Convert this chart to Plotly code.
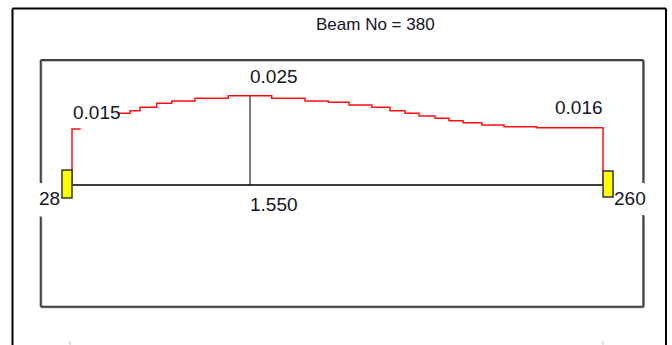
import plotly.graph_objects as go

# ---------------- data ----------------
beam_no = 380
node_start = "28"
node_end = "260"
beam_length = 4.624          # m
max_pos = 1.550              # m, location of max deflection
max_label = "0.025"
start_label = "0.015"
end_label = "0.016"

# staircase of the displacement curve (step start positions, m) and values
seg1_x = [0.000, 0.076]
seg1_y = [0.01573, 0.01573]
step_x = [0.394, 0.505, 0.592, 0.738, 0.868, 1.071, 1.361, 1.739, 2.029, 2.232,
          2.412, 2.610, 2.769, 2.900, 3.022, 3.161, 3.283, 3.405, 3.568, 3.762, 4.047]
step_y = [0.02014, 0.02087, 0.02183, 0.02295, 0.02360, 0.02435, 0.02508, 0.02435,
          0.02360, 0.02323, 0.02247, 0.02183, 0.02087, 0.02014, 0.01938, 0.01874,
          0.01806, 0.01750, 0.01685, 0.01638, 0.01610]
max_val = 0.02508

# ---------------- layout helpers ----------------
W, H = 672, 345
PX_PER_M = 114.84
X0_PX = 72.0
Y0_PX = 185.0
K = 0.0002809  # deflection units per pixel

x_range = [(0 - X0_PX) / PX_PER_M, (W - X0_PX) / PX_PER_M]
y_range = [(Y0_PX - H) * K, (Y0_PX - 0) * K]


def px(x):
    return x / W


def py(y):
    return 1 - y / H


FONT = "Liberation Sans Narrow, Arial Narrow, Liberation Sans, Arial, sans-serif"
TXT = "#151525"

fig = go.Figure()

# beam line
fig.add_trace(go.Scatter(x=[0, beam_length], y=[0, 0], mode="lines",
                         line=dict(color="#3c3c3c", width=2), hoverinfo="skip"))

# max deflection marker line
fig.add_trace(go.Scatter(x=[max_pos, max_pos], y=[0, max_val], mode="lines",
                         line=dict(color="#000000", width=1), hoverinfo="skip"))

# displacement curve built from the step arrays
cx = [0.0] + seg1_x + [None]
cy = [0.0] + seg1_y + [None]
ends = step_x[1:] + [beam_length]
for xs, xe, yv in zip(step_x, ends, step_y):
    cx += [xs, xe]
    cy += [yv, yv]
cx += [beam_length]
cy += [0.0]
fig.add_trace(go.Scatter(x=cx, y=cy, mode="lines", connectgaps=False,
                         line=dict(color="#ff1010", width=1.5), hoverinfo="skip"))

shapes = []
# outer frame
for (xa, ya, xb, yb) in [(12.5, 8.5, 666, 8.5), (12.5, 8.5, 12.5, 350), (666, 8.5, 666, 350)]:
    shapes.append(dict(type="line", xref="paper", yref="paper",
                       x0=px(xa), y0=py(ya), x1=px(xb), y1=py(yb),
                       line=dict(color="#000000", width=2)))
# inner box (with gaps for the node labels) + light shadow
inner = [(40.7, 60, 643.3, 60), (40.7, 306.7, 643.3, 306.7),
         (40.7, 60, 40.7, 183), (40.7, 216.5, 40.7, 306.7),
         (643.3, 60, 643.3, 183), (643.3, 215, 643.3, 306.7)]
for (xa, ya, xb, yb) in inner:
    shapes.append(dict(type="line", xref="paper", yref="paper",
                       x0=px(xa + 1.2), y0=py(ya + 1.2), x1=px(xb + 1.2), y1=py(yb + 1.2),
                       line=dict(color="#b0b0b0", width=1)))
for (xa, ya, xb, yb) in inner:
    shapes.append(dict(type="line", xref="paper", yref="paper",
                       x0=px(xa), y0=py(ya), x1=px(xb), y1=py(yb),
                       line=dict(color="#404040", width=2)))
# small tick marks at bottom
for xt in [70, 603]:
    shapes.append(dict(type="line", xref="paper", yref="paper",
                       x0=px(xt), y0=py(341), x1=px(xt), y1=py(345),
                       line=dict(color="#c8c8c8", width=1)))
# supports
shapes.append(dict(type="rect", xref="x", yref="y", xsizemode="pixel", ysizemode="pixel",
                   xanchor=0, yanchor=0, x0=-10, x1=0, y0=-13, y1=15,
                   fillcolor="#ffff00", line=dict(color="#333333", width=1.5)))
shapes.append(dict(type="rect", xref="x", yref="y", xsizemode="pixel", ysizemode="pixel",
                   xanchor=beam_length, yanchor=0, x0=0, x1=10, y0=-12, y1=14,
                   fillcolor="#ffff00", line=dict(color="#333333", width=1.5)))

ann = []


def label(text, x, y, xanchor, size=19, xref="x", yref="y", yshift=0, xshift=0):
    ann.append(dict(text=text, x=x, y=y, xref=xref, yref=yref, xanchor=xanchor,
                    yanchor="middle", showarrow=False, yshift=yshift, xshift=xshift,
                    font=dict(family=FONT, size=size, color=TXT)))


label(f"Beam No = {beam_no}", px(375), py(24), "center", size=17, xref="paper", yref="paper")
label(max_label, max_pos, max_val, "left", yshift=19, xshift=-2)
label(start_label, seg1_x[0], seg1_y[0], "left", yshift=17, xshift=-1)
label(end_label, beam_length, step_y[-1], "right", yshift=20, xshift=2)
label(f"{max_pos:.3f}", max_pos, 0, "left", yshift=-19, xshift=-2)
label(node_start, 0, 0, "right", yshift=-13.5, xshift=-10)
label(node_end, beam_length, 0, "left", yshift=-13.5, xshift=9)

fig.update_layout(
    width=W, height=H, margin=dict(l=0, r=0, t=0, b=0),
    paper_bgcolor="white", plot_bgcolor="white", showlegend=False,
    xaxis=dict(range=x_range, visible=False, fixedrange=True),
    yaxis=dict(range=y_range, visible=False, fixedrange=True),
    shapes=shapes, annotations=ann,
)

fig.write_html("out.html", config={"displayModeBar": False},
               post_script="document.body.style.margin='0';document.body.style.overflow='hidden';")
